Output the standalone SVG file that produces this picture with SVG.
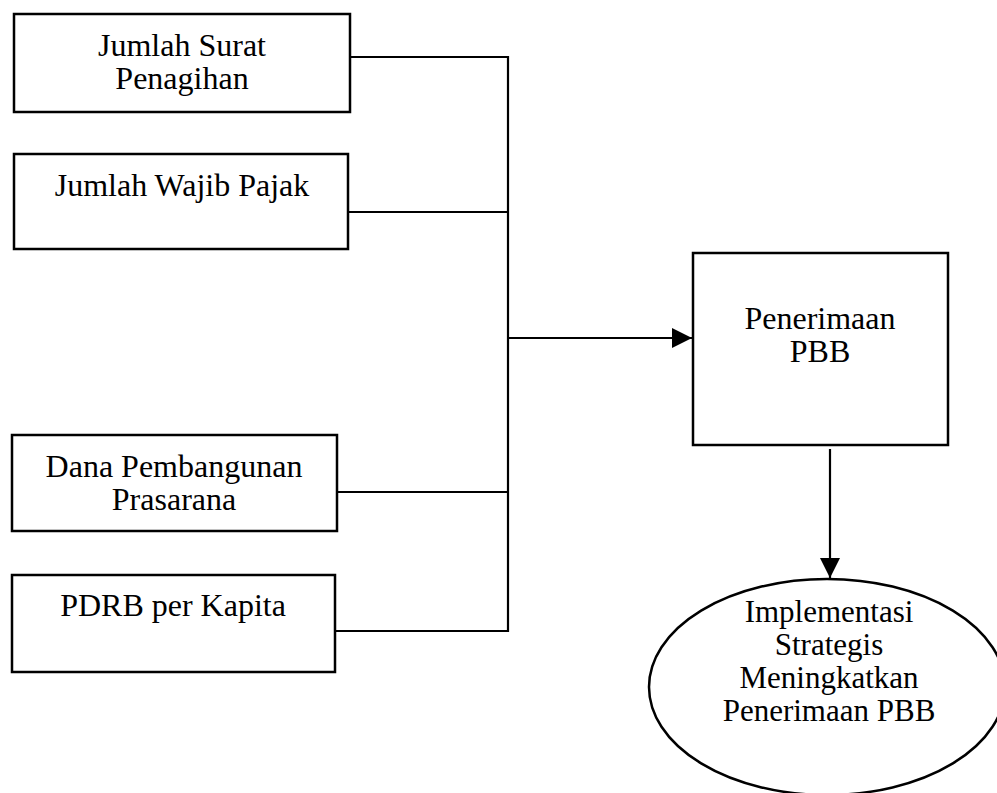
<svg xmlns="http://www.w3.org/2000/svg" width="997" height="793" viewBox="0 0 997 793">
<defs>
<style>
.box{fill:#fff;stroke:#000;stroke-width:2.5}
.t{font-family:"Liberation Serif","Times New Roman",serif;font-size:32px;fill:#000;text-anchor:middle}
.e{font-size:31px}
.c{fill:none;stroke:#000;stroke-width:2.2}
</style>
<marker id="ah2" markerWidth="20" markerHeight="20" refX="20" refY="10" orient="auto" markerUnits="userSpaceOnUse" viewBox="0 0 20 20">
<path d="M0,0 L20,10 L0,20 Z" fill="#000"/>
</marker>
</defs>
<rect width="997" height="793" fill="#fff"/>
<g id="connectors">
<path class="c" d="M350,57 H508 V631 H336"/>
<path class="c" d="M348,212 H508"/>
<path class="c" d="M337,492 H508"/>
<path class="c" d="M508,338 H692" marker-end="url(#ah2)"/>
<path class="c" d="M830,449 V578" marker-end="url(#ah2)"/>
</g>
<g id="n1">
<rect class="box" x="14" y="14" width="336" height="98"/>
<text class="t" x="182" y="56">Jumlah Surat</text>
<text class="t" x="182" y="89">Penagihan</text>
</g>
<g id="n2">
<rect class="box" x="14" y="154" width="334" height="95"/>
<text class="t" x="182" y="196">Jumlah Wajib Pajak</text>
</g>
<g id="n3">
<rect class="box" x="12" y="435" width="325" height="96"/>
<text class="t" x="174" y="477">Dana Pembangunan</text>
<text class="t" x="174" y="510">Prasarana</text>
</g>
<g id="n4">
<rect class="box" x="12" y="575" width="323" height="97"/>
<text class="t" x="173" y="616">PDRB per Kapita</text>
</g>
<g id="n5">
<rect class="box" x="693" y="253" width="255" height="192"/>
<text class="t" x="820" y="329">Penerimaan</text>
<text class="t" x="820" y="362">PBB</text>
</g>
<g id="n6">
<ellipse class="box" cx="827" cy="687" rx="178" ry="108"/>
<text class="t e" x="829" y="622">Implementasi</text>
<text class="t e" x="829" y="655">Strategis</text>
<text class="t e" x="829" y="688">Meningkatkan</text>
<text class="t e" x="829" y="721">Penerimaan PBB</text>
</g>
</svg>
